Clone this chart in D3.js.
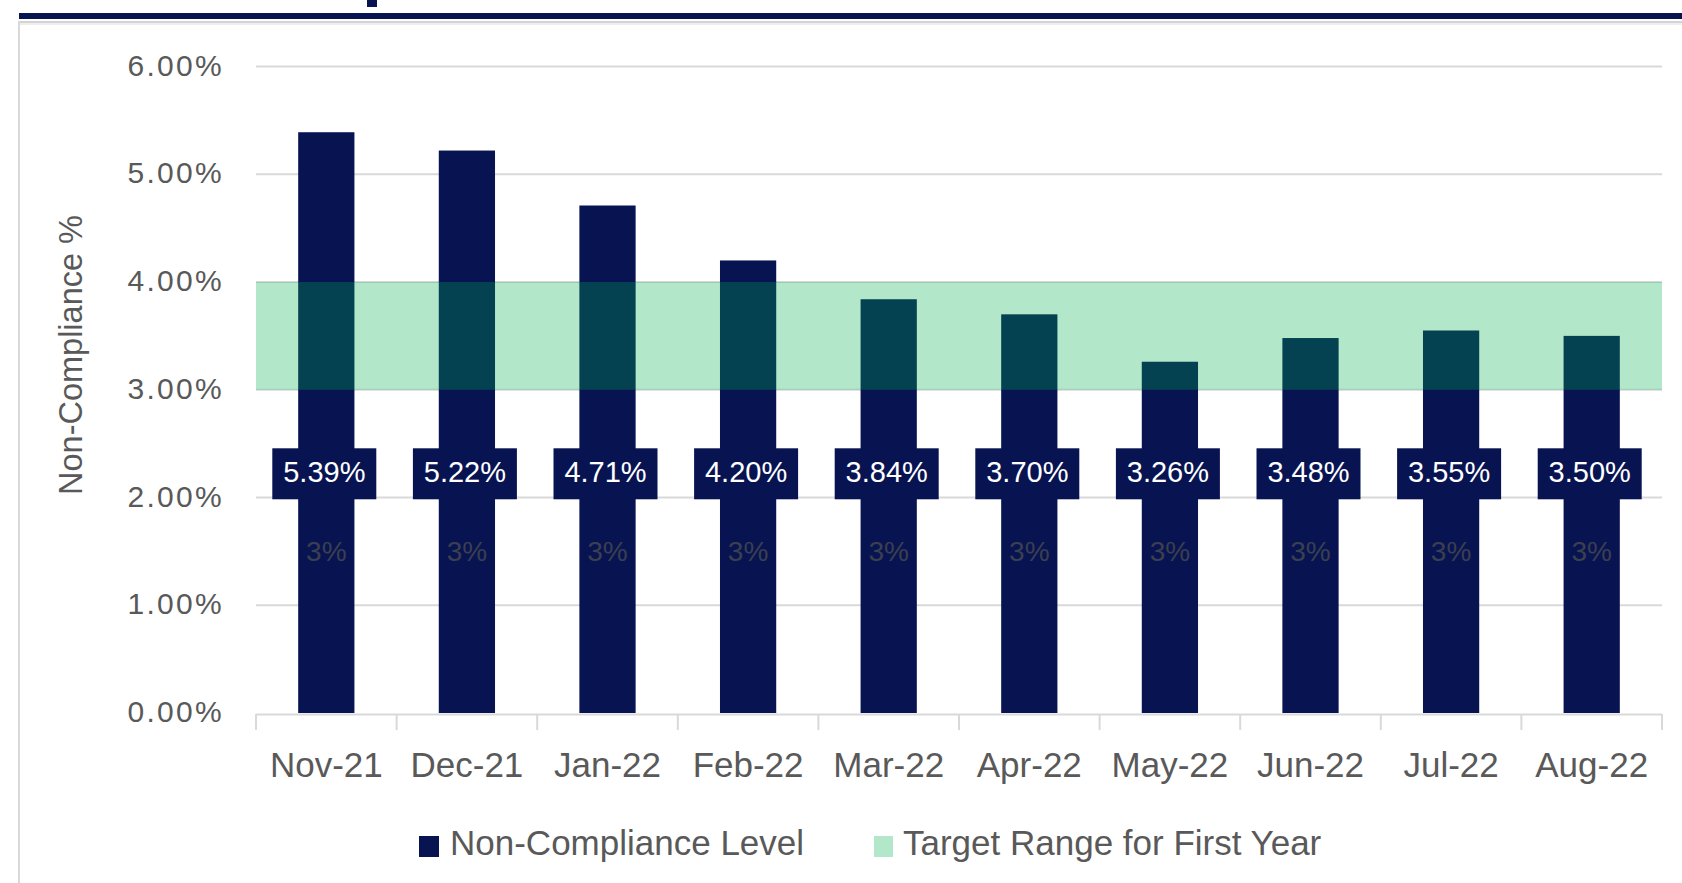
<!DOCTYPE html>
<html>
<head>
<meta charset="utf-8">
<script src="https://cdn.jsdelivr.net/npm/d3@7"></script>
<style>
  html, body { margin: 0; padding: 0; background: #ffffff; }
  svg { display: block; font-family: 'Liberation Sans', Arial, sans-serif; }
</style>
</head>
<body>
<svg id="chart" width="1682" height="883"></svg>
<script>
// ---- data ----
const categories = ["Nov-21", "Dec-21", "Jan-22", "Feb-22", "Mar-22", "Apr-22", "May-22", "Jun-22", "Jul-22", "Aug-22"];
const nonCompliance = [5.39, 5.22, 4.71, 4.20, 3.84, 3.70, 3.26, 3.48, 3.55, 3.50];
const targetBase = [3, 3, 3, 3, 3, 3, 3, 3, 3, 3];
const targetRange = [1, 1, 1, 1, 1, 1, 1, 1, 1, 1];
const yTicks = [0, 1, 2, 3, 4, 5, 6];
const seriesNames = ["Non-Compliance Level", "Target Range for First Year"];

// ---- style ----
const NAVY = "#081452";
const GREEN = "#00B050";
const GRID = "#d9d9d9";
const TEXT = "#595959";

const svg = d3.select("#chart");

// page decoration: header rule, title fragment, panel border
svg.append("rect").attr("x", 367).attr("y", 0).attr("width", 10).attr("height", 7).attr("fill", NAVY);
svg.append("rect").attr("x", 19).attr("y", 13).attr("width", 1663).attr("height", 6).attr("fill", NAVY);
svg.append("rect").attr("x", 19).attr("y", 21).attr("width", 1663).attr("height", 2).attr("fill", "#d4d4d4");
svg.append("rect").attr("x", 19).attr("y", 23).attr("width", 1663).attr("height", 2).attr("fill", "#eeeeee");
svg.append("rect").attr("x", 18).attr("y", 21).attr("width", 2).attr("height", 862).attr("fill", "#d9d9d9");

// ---- scales ----
const x = d3.scaleBand().domain(categories).range([256, 1662]).paddingInner(0.6).paddingOuter(0.3);
const y = d3.scaleLinear().domain([0, 6]).range([713, 66.5]);
const step = x.step();
const edgeL = c => x(c) - step * 0.3;
const edgeR = c => x(c) + x.bandwidth() + step * 0.3;

// gridlines
svg.append("g").selectAll("line").data(yTicks.filter(t => t > 0)).join("line")
  .attr("x1", 256).attr("x2", 1662)
  .attr("y1", d => y(d)).attr("y2", d => y(d))
  .attr("stroke", GRID).attr("stroke-width", 2);

// y axis labels
const yAxis = d3.axisLeft(y).tickValues(yTicks).tickFormat(d => d3.format(".2f")(d) + "%").tickSize(0).tickPadding(0);
const gy = svg.append("g").attr("transform", "translate(224,0)").call(yAxis);
gy.select(".domain").remove();
gy.selectAll("text").attr("fill", TEXT).attr("font-size", 30).attr("letter-spacing", 2.3)
  .attr("font-family", "'Liberation Sans', Arial, sans-serif").attr("dy", "0.29em");

// x axis
const xAxis = d3.axisBottom(x).tickSize(0).tickPadding(0);
const gx = svg.append("g").attr("transform", `translate(0,${y(0)})`).call(xAxis);
gx.select(".domain").remove();
gx.selectAll("text").attr("fill", TEXT).attr("font-size", 35).attr("y", 64).attr("dy", 0)
  .attr("font-family", "'Liberation Sans', Arial, sans-serif");
svg.append("line").attr("x1", 256).attr("x2", 1662).attr("y1", y(0) + 1.5).attr("y2", y(0) + 1.5)
  .attr("stroke", GRID).attr("stroke-width", 2);
const boundaries = categories.map(edgeL).concat([edgeR(categories[categories.length - 1])]);
svg.append("g").selectAll("line").data(boundaries).join("line")
  .attr("x1", d => d).attr("x2", d => d)
  .attr("y1", y(0) + 1).attr("y2", y(0) + 17)
  .attr("stroke", GRID).attr("stroke-width", 2);

// bars
svg.append("g").selectAll("rect").data(categories).join("rect")
  .attr("x", c => x(c)).attr("width", x.bandwidth())
  .attr("y", (c, i) => y(nonCompliance[i]))
  .attr("height", (c, i) => y(0) - y(nonCompliance[i]))
  .attr("fill", NAVY);

// target range area (stacked on invisible base)
const pts = [];
categories.forEach((c, i) => {
  pts.push({ x: edgeL(c), lo: targetBase[i], hi: targetBase[i] + targetRange[i] });
  pts.push({ x: edgeR(c), lo: targetBase[i], hi: targetBase[i] + targetRange[i] });
});
const area = d3.area().x(d => d.x).y0(d => y(d.lo)).y1(d => y(d.hi));
svg.append("path").datum(pts).attr("d", area).attr("fill", GREEN).attr("fill-opacity", 0.3);

// base series labels ("3%")
svg.append("g").selectAll("text").data(categories).join("text")
  .attr("x", c => x(c) + x.bandwidth() / 2)
  .attr("y", (c, i) => y(targetBase[i] / 2))
  .attr("dy", "0.36em")
  .attr("text-anchor", "middle")
  .attr("font-size", 28)
  .attr("fill", "#3b3f4f")
  .text((c, i) => d3.format(".0f")(targetBase[i]) + "%");

// data labels in navy boxes
const lblY = y(2.22);
const lbl = svg.append("g").selectAll("g").data(categories).join("g")
  .attr("transform", c => `translate(${x(c) + x.bandwidth() / 2 - 2},${lblY})`);
lbl.append("rect").attr("x", -52).attr("y", -25.5).attr("width", 104).attr("height", 51).attr("fill", NAVY);
lbl.append("text").attr("text-anchor", "middle").attr("dy", "0.3em")
  .attr("font-size", 29).attr("fill", "#ffffff")
  .text((c, i) => d3.format(".2f")(nonCompliance[i]) + "%");

// y axis title
svg.append("text")
  .attr("transform", "translate(82,355) rotate(-90)")
  .attr("text-anchor", "middle")
  .attr("font-size", 32.5)
  .attr("fill", TEXT)
  .text("Non-Compliance %");

// legend
const legend = svg.append("g");
legend.append("rect").attr("x", 419).attr("y", 836).attr("width", 20).attr("height", 21).attr("fill", NAVY);
legend.append("text").attr("x", 450).attr("y", 855).attr("font-size", 35).attr("fill", TEXT).text(seriesNames[0]);
legend.append("rect").attr("x", 874).attr("y", 836).attr("width", 19).attr("height", 21)
  .attr("fill", GREEN).attr("fill-opacity", 0.3);
legend.append("text").attr("x", 903).attr("y", 855).attr("font-size", 35).attr("fill", TEXT).text(seriesNames[1]);
</script>
</body>
</html>
